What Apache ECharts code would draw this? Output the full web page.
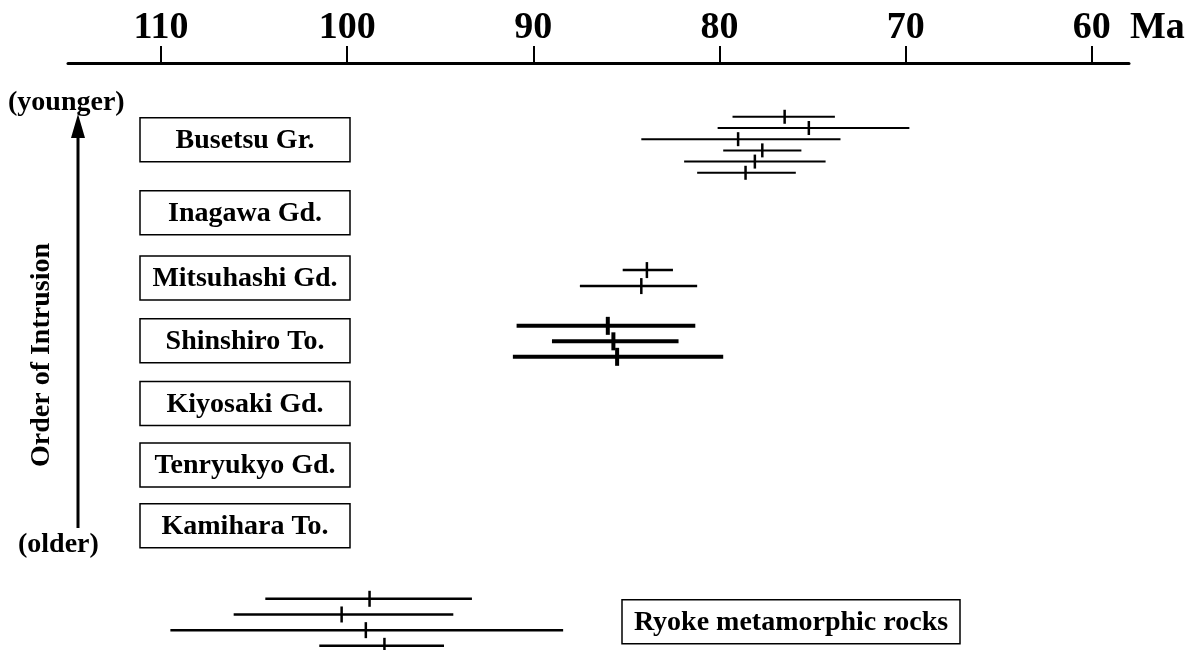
<!DOCTYPE html>
<html>
<head>
<meta charset="utf-8">
<script src="https://cdn.jsdelivr.net/npm/echarts@6/dist/echarts.min.js"></script>
<style>
html, body { margin: 0; padding: 0; background: #fff; }
#box { width: 1186px; height: 650px; }
</style>
</head>
<body>
<div id="box"></div>
<script>
// rock units, top (younger) to bottom (older), then the Ryoke rocks
var rockUnits = ['Busetsu Gr.', 'Inagawa Gd.', 'Mitsuhashi Gd.', 'Shinshiro To.', 'Kiyosaki Gd.', 'Tenryukyo Gd.', 'Kamihara To.', 'Ryoke metamorphic rocks'];
var tickValues = [110, 100, 90, 80, 70, 60];

// ages in Ma: age, older limit, younger limit
var busetsuAge   = [76.5, 75.2, 79.0, 77.7, 78.1, 78.6];
var busetsuOld   = [79.3, 80.1, 84.2, 79.8, 81.9, 81.2];
var busetsuYoung = [73.8, 69.8, 73.5, 75.6, 74.3, 75.9];

var mitsuhashiAge   = [83.9, 84.2];
var mitsuhashiOld   = [85.2, 87.5];
var mitsuhashiYoung = [82.5, 81.2];

var shinshiroAge   = [86.0, 85.7, 85.5];
var shinshiroOld   = [90.9, 89.0, 91.1];
var shinshiroYoung = [81.3, 82.2, 79.8];

var ryokeAge   = [98.8, 100.3, 99.0, 98.0];
var ryokeOld   = [104.4, 106.1, 109.5, 101.5];
var ryokeYoung = [93.3, 94.3, 88.4, 94.8];

// layout (row units on hidden y axis)
var rowPos = [0, 1.14, 2.16, 3.14, 4.12, 5.08, 6.03, 7.53];
var FONT = 'Liberation Serif, Times New Roman, serif';

function buildRows(row, first, step, age, lo, hi) {
    var out = [];
    for (var i = 0; i < age.length; i++) {
        out.push([age[i], lo[i], hi[i], rowPos[row] + first + i * step]);
    }
    return out;
}

function makeRender(lw, half, tw) {
    return function(params, api) {
        var y = api.value(3);
        var c = api.coord([api.value(0), y]);
        var a = api.coord([api.value(1), y]);
        var b = api.coord([api.value(2), y]);
        return {
            type: 'group',
            children: [{
                type: 'line',
                shape: { x1: a[0], y1: a[1], x2: b[0], y2: b[1] },
                style: { stroke: '#000', lineWidth: lw }
            }, {
                type: 'line',
                shape: { x1: c[0], y1: c[1] - half, x2: c[0], y2: c[1] + half },
                style: { stroke: '#000', lineWidth: tw }
            }]
        };
    };
}

function renderBox(params, api) {
    var idx = api.value(0);
    var p = api.coord([100, rowPos[idx]]);
    var ryoke = idx === 7;
    var x = ryoke ? 622 : 140;
    var w = ryoke ? 338 : 210;
    var h = 44;
    return {
        type: 'group',
        children: [{
            type: 'rect',
            shape: { x: x, y: p[1] - h / 2, width: w, height: h },
            style: { fill: '#fff', stroke: '#000', lineWidth: 1.5 }
        }, {
            type: 'text',
            style: {
                x: x + w / 2, y: p[1] + 1, text: rockUnits[idx],
                font: 'bold 28px ' + FONT, fill: '#000',
                align: 'center', verticalAlign: 'middle'
            }
        }]
    };
}

var myChart = echarts.init(document.getElementById('box'));
var option = {
    backgroundColor: '#fff',
    animation: false,
    grid: { left: 68, right: 57, top: 63, bottom: 0 },
    xAxis: {
        type: 'value',
        position: 'top',
        inverse: true,
        min: 58,
        max: 115,
        axisLine: { show: true, onZero: false, lineStyle: { color: '#000', width: 3 } },
        axisTick: { show: true, customValues: tickValues, length: 17, lineStyle: { color: '#000', width: 2 } },
        axisLabel: { customValues: tickValues, margin: 16, fontFamily: FONT, fontWeight: 'bold', fontSize: 38, color: '#000' },
        splitLine: { show: false }
    },
    yAxis: {
        type: 'value',
        inverse: true,
        min: -1.2,
        max: 7.97,
        show: false
    },
    series: [{
        type: 'custom',
        renderItem: renderBox,
        data: rockUnits.map(function(n, i) { return [i]; }),
        encode: { y: 0 }
    }, {
        type: 'custom',
        renderItem: makeRender(2, 7, 2.5),
        data: buildRows(0, -0.36, 0.175, busetsuAge, busetsuOld, busetsuYoung),
        encode: { x: [0, 1, 2], y: 3 }
    }, {
        type: 'custom',
        renderItem: makeRender(2.5, 8, 2.5),
        data: buildRows(2, -0.125, 0.25, mitsuhashiAge, mitsuhashiOld, mitsuhashiYoung),
        encode: { x: [0, 1, 2], y: 3 }
    }, {
        type: 'custom',
        renderItem: makeRender(4, 9, 4),
        data: buildRows(3, -0.234, 0.242, shinshiroAge, shinshiroOld, shinshiroYoung),
        encode: { x: [0, 1, 2], y: 3 }
    }, {
        type: 'custom',
        renderItem: makeRender(2.5, 8, 2.5),
        data: buildRows(7, -0.36, 0.245, ryokeAge, ryokeOld, ryokeYoung),
        encode: { x: [0, 1, 2], y: 3 }
    }],
    graphic: [{
        type: 'text',
        style: { x: 1130, y: 47, text: 'Ma', font: 'bold 38px ' + FONT, fill: '#000', verticalAlign: 'bottom' }
    }, {
        type: 'text',
        style: { x: 8, y: 103, text: '(younger)', font: 'bold 28px ' + FONT, fill: '#000', verticalAlign: 'middle' }
    }, {
        type: 'text',
        style: { x: 18, y: 545, text: '(older)', font: 'bold 28px ' + FONT, fill: '#000', verticalAlign: 'middle' }
    }, {
        type: 'line',
        shape: { x1: 78, y1: 528, x2: 78, y2: 132 },
        style: { stroke: '#000', lineWidth: 3 }
    }, {
        type: 'polygon',
        shape: { points: [[71, 138], [85, 138], [78, 114]] },
        style: { fill: '#000' }
    }, {
        type: 'text',
        x: 42, y: 355,
        rotation: Math.PI / 2,
        style: { x: 0, y: 0, text: 'Order of Intrusion', font: 'bold 28px ' + FONT, fill: '#000', align: 'center', verticalAlign: 'middle' }
    }]
};
myChart.setOption(option);
</script>
</body>
</html>
